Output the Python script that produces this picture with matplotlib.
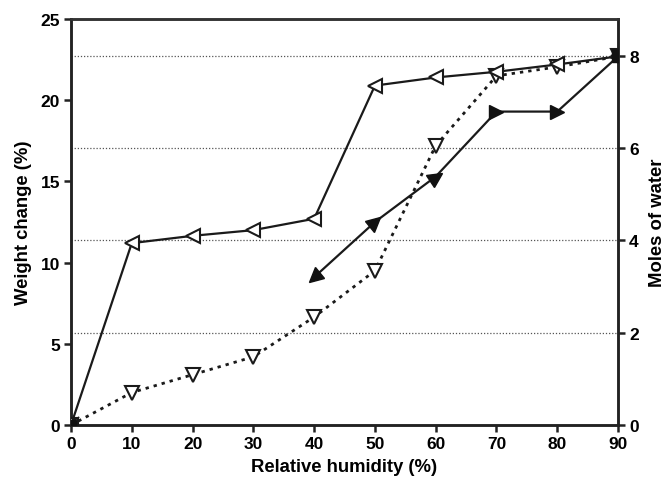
import matplotlib
matplotlib.use("Agg")
import matplotlib.pyplot as plt
from matplotlib.markers import MarkerStyle
from matplotlib.transforms import Affine2D

plt.rcParams['font.family'] = ['Liberation Sans', 'DejaVu Sans']
plt.rcParams['font.weight'] = 'bold'

rh = [0, 10, 20, 30, 40, 50, 60, 70, 80, 90]
desorption = [0, 11.2, 11.65, 12.0, 12.7, 20.9, 21.4, 21.75, 22.2, 22.7]
sorption = [0, 2.0, 3.1, 4.2, 6.65, 9.5, 17.2, 21.5, 22.05, 22.7]
rh2 = [40, 50, 60, 70, 80, 90]
second = [9.1, 12.5, 15.3, 19.3, 19.3, 22.7]
arrow_angles = [222, 42, 36, 0, 0, None]

left_ticks = [0, 5, 10, 15, 20, 25]
right_ticks = [0, 2, 4, 6, 8]
x_ticks = [0, 10, 20, 30, 40, 50, 60, 70, 80, 90]

fig = plt.figure(figsize=(6.66, 4.81), dpi=100)
ax = fig.add_axes([0.1066, 0.1143, 0.8214, 0.8441])
ax2 = ax.twinx()

ax2.set_ylim(0, 8.8)
ax2.set_yticks(right_ticks)
for t in right_ticks[1:]:
    ax2.axhline(t, color='#555555', lw=0.9, ls=(0, (1, 1.5)), zorder=0)

ax.set_zorder(ax2.get_zorder() + 1)
ax.patch.set_visible(False)

ax.plot(rh, sorption, color='#1a1a1a', lw=2, ls=(0, (1.2, 1.8)),
        marker='v', ms=9.5, mfc='white', mec='#1a1a1a', mew=1.5, zorder=3)
ax.plot(rh, desorption, color='#1a1a1a', lw=1.6,
        marker='<', ms=9.5, mfc='white', mec='#1a1a1a', mew=1.5, zorder=4)
ax.plot(rh2, second, color='#1a1a1a', lw=1.6, zorder=4)
for x, y, a in zip(rh2, second, arrow_angles):
    if a is None:
        ax.plot(x, y, marker='s', ms=8, color='#111111', zorder=5)
    else:
        m = MarkerStyle('>', transform=Affine2D().rotate_deg(a))
        ax.plot(x, y, marker=m, ms=10.5, color='#111111', zorder=5)
ax.plot(0, 0, marker='s', ms=7, color='#111111', zorder=5)

ax.set_xlim(0, 90)
ax.set_ylim(0, 25)
ax.set_xticks(x_ticks)
ax.set_yticks(left_ticks)

for a in (ax, ax2):
    for s in a.spines.values():
        s.set_linewidth(1.8)
        s.set_color('#222222')
    a.tick_params(width=1.8, length=5, labelsize=12.5, color='#222222', pad=3)
ax.spines['top'].set_color('#333333')

ax.set_xlabel('Relative humidity (%)', fontsize=13.3, fontweight='bold', labelpad=5)
ax.set_ylabel('Weight change (%)', fontsize=13.3, fontweight='bold', labelpad=6)
ax2.set_ylabel('Moles of water', fontsize=13.3, fontweight='bold', labelpad=7)

fig.savefig('out.png', dpi=100)
